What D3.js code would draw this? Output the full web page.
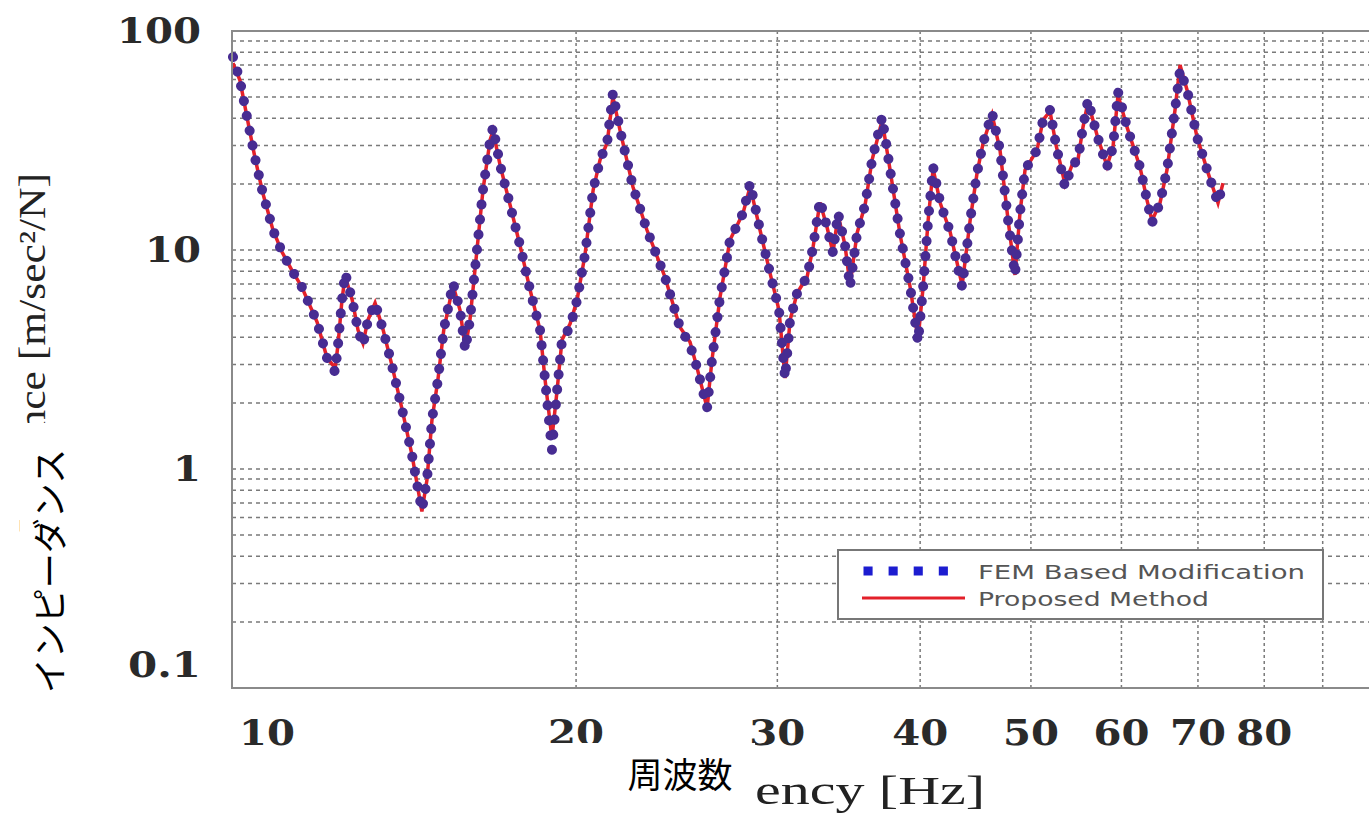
<!DOCTYPE html>
<html>
<head>
<meta charset="utf-8">
<script src="https://d3js.org/d3.v7.min.js"></script>
<style>
  body { margin: 0; background: #fff; }
  .tick-label { font-family: 'DejaVu Serif', serif; font-size: 35px; font-weight: bold; fill: #2a2a2a; }
  .axis-title { font-family: 'Liberation Serif', serif; font-size: 38px; fill: #222; }
  .legend-text { font-family: 'DejaVu Sans', sans-serif; font-size: 20px; fill: #555; }
  .jp { font-family: 'Noto Sans CJK JP', sans-serif; font-size: 35px; fill: #000; }
</style>
</head>
<body>
<div id="chart"></div>
<script>
// frequency [Hz]
var freq = [10.02, 10.16, 10.31, 10.47, 10.64, 10.86, 11.06, 11.28, 11.51, 11.87,
  12.11, 12.31, 12.38, 12.48, 12.56, 12.74, 12.89, 13.02, 13.15, 13.34,
  13.56, 13.80, 14.09, 14.37, 14.55, 14.66, 14.81, 14.96, 15.14, 15.32,
  15.61, 15.83, 16.00, 16.15, 16.38, 16.58, 16.82, 16.92, 17.16, 17.51,
  17.86, 18.23, 18.60, 18.79, 19.05, 19.25, 19.44, 19.76, 20.04, 20.36,
  20.70, 20.99, 21.29, 21.54, 21.85, 22.43, 23.07, 23.92, 24.65, 25.16,
  25.51, 26.04, 26.30, 26.73, 27.27, 28.00, 28.40, 28.97, 29.56, 30.10,
  30.47, 30.78, 31.22, 31.85, 32.24, 32.69, 33.16, 33.56, 33.90, 34.38,
  34.73, 35.23, 35.80, 36.31, 37.05, 37.65, 38.42, 39.20, 39.83, 40.24,
  40.65, 41.06, 41.65, 42.49, 43.53, 44.24, 44.86, 45.41, 46.24, 46.98,
  47.75, 48.42, 48.91, 49.41, 50.62, 51.23, 51.96, 52.59, 53.55, 54.31,
  54.97, 55.53, 56.09, 57.12, 58.28, 58.99, 59.59, 60.68, 62.29, 63.17,
  63.81, 64.85, 65.77, 66.84, 67.52, 68.48, 69.87, 71.44, 72.89, 73.62];

// FEM Based Modification
var femValues = [76.1, 59.7, 40.1, 26.6, 18.2, 12.34, 9.79, 8.10, 6.78, 4.69,
  3.21, 2.77, 3.68, 5.91, 7.85, 5.91, 4.31, 3.68, 4.79, 5.73,
  4.31, 2.98, 1.86, 1.16, 0.802, 0.650, 0.891, 1.67, 2.55, 4.31,
  7.07, 5.32, 3.49, 4.79, 10.0, 18.8, 31.8, 36.4, 24.4, 16.05,
  10.54, 6.57, 4.31, 2.55, 1.22, 2.29, 3.88, 4.45, 5.91, 9.49,
  18.8, 25.8, 30.8, 52.1, 35.3, 19.4, 12.34, 7.53, 4.45, 3.68,
  2.92, 1.90, 3.15, 6.10, 11.1, 14.76, 20.2, 12.34, 7.85, 5.32,
  2.60, 4.79, 6.36, 7.53, 10.32, 16.9, 12.7, 9.69, 14.76, 10.54,
  6.78, 11.96, 16.05, 25.8, 40.5, 23.2, 11.7, 6.78, 3.80, 6.78,
  13.7, 23.9, 16.4, 12.1, 6.78, 13.7, 22.5, 30.8, 42.2, 28.6,
  13.7, 7.69, 14.76, 23.2, 28.6, 39.2, 43.6, 30.2, 19.4, 24.4,
  25.8, 36.4, 48.4, 33.5, 23.9, 29.5, 52.7, 36.4, 23.9, 16.9,
  13.3, 16.4, 23.2, 43.6, 66.4, 53.8, 32.8, 22.5, 16.4, 20.2];

// Proposed Method
var proposedValues = [71.4, 59.7, 40.1, 26.6, 18.2, 12.34, 9.79, 8.10, 6.78, 4.69,
  3.21, 2.90, 3.68, 5.91, 7.60, 5.91, 4.31, 3.75, 4.79, 5.73,
  4.31, 2.98, 1.86, 1.16, 0.802, 0.640, 0.891, 1.67, 2.55, 4.31,
  6.90, 5.32, 3.55, 4.79, 10.0, 18.8, 31.8, 35.0, 24.4, 16.05,
  10.54, 6.57, 4.31, 2.55, 1.38, 2.29, 3.88, 4.60, 5.91, 9.49,
  18.8, 25.8, 30.8, 50.0, 35.3, 19.4, 12.34, 7.53, 4.45, 3.80,
  2.92, 1.90, 3.15, 6.10, 11.1, 14.76, 19.5, 12.34, 7.85, 5.32,
  2.60, 4.79, 6.36, 7.53, 10.32, 16.5, 12.7, 9.69, 14.5, 10.54,
  6.90, 11.96, 16.05, 25.8, 39.0, 23.2, 11.7, 6.78, 3.90, 6.78,
  13.7, 23.5, 16.4, 12.1, 6.90, 13.7, 22.5, 30.8, 41.5, 28.6,
  13.7, 7.69, 14.76, 23.2, 28.6, 39.2, 43.0, 30.2, 20.0, 24.4,
  25.8, 36.4, 47.5, 33.5, 24.2, 29.5, 51.0, 36.4, 23.9, 16.9,
  13.6, 16.4, 23.2, 43.6, 70.0, 53.8, 32.8, 22.5, 16.4, 20.2];

var xTicks = [10, 20, 30, 40, 50, 60, 70, 80];
var yTicks = [0.1, 1, 10, 100];
var seriesNames = ["FEM Based Modification", "Proposed Method"];

var width = 1369, height = 819;
var plotLeft = 232, plotRight = 1375, plotTop = 31, plotBottom = 688;

var svg = d3.select("#chart").append("svg")
  .attr("width", width)
  .attr("height", height);

svg.append("rect").attr("width", width).attr("height", height).attr("fill", "#fff");

var x = d3.scaleLog().domain([10, 100]).range([plotLeft, plotRight]);
var y = d3.scaleLog().domain([0.1, 100]).range([plotBottom, plotTop]);

// grid: every 1..9 step inside each decade
var hGrid = [];
[0.1, 1, 10].forEach(function (d) {
  for (var k = 1; k < 10; k++) hGrid.push(d * k);
});
hGrid = hGrid.filter(function (v) { return v > 0.1; });
var vGrid = [20, 30, 40, 50, 60, 70, 80, 90];

svg.append("g").selectAll("line").data(hGrid).enter().append("line")
  .attr("x1", plotLeft).attr("x2", plotRight)
  .attr("y1", function (d) { return y(d); })
  .attr("y2", function (d) { return y(d); })
  .attr("stroke", "#7a7a7a")
  .attr("stroke-width", 1.5)
  .attr("stroke-dasharray", "4,4");

svg.append("g").selectAll("line").data(vGrid).enter().append("line")
  .attr("y1", plotTop).attr("y2", plotBottom)
  .attr("x1", function (d) { return x(d); })
  .attr("x2", function (d) { return x(d); })
  .attr("stroke", "#7a7a7a")
  .attr("stroke-width", 1.5)
  .attr("stroke-dasharray", "3,3");

var line = d3.line()
  .x(function (d) { return x(d[0]); })
  .y(function (d) { return y(d[1]); });

// red solid line first, thick dotted FEM curve over it
svg.append("path")
  .datum(d3.zip(freq, proposedValues))
  .attr("d", line)
  .attr("fill", "none")
  .attr("stroke", "#e3202a")
  .attr("stroke-width", 3.5);

svg.append("path")
  .datum(d3.zip(freq, femValues))
  .attr("d", line)
  .attr("fill", "none")
  .attr("stroke", "#472c92")
  .attr("stroke-width", 10)
  .attr("stroke-linecap", "round")
  .attr("stroke-dasharray", "0.1,15");

// frame
svg.append("path")
  .attr("d", "M" + plotRight + "," + plotTop + "H" + plotLeft + "V" + plotBottom + "H" + plotRight)
  .attr("fill", "none")
  .attr("stroke", "#8a8a8a")
  .attr("stroke-width", 2);

function labelLength(s) {
  var n = 0;
  for (var i = 0; i < s.length; i++) n += s[i] === "." ? 17 : 28;
  return n;
}

// x tick labels (the first one sits a little right of the axis)
svg.append("g").selectAll("text").data(xTicks).enter().append("text")
  .attr("class", "tick-label")
  .attr("x", function (d) { return x(d) + (d === 10 ? 35 : 0); })
  .attr("y", 745)
  .attr("text-anchor", "middle")
  .attr("textLength", function (d) { return labelLength(String(d)); })
  .attr("lengthAdjust", "spacingAndGlyphs")
  .text(function (d) { return d; });

// y tick labels (the bottom one is pulled up)
svg.append("g").selectAll("text").data(yTicks).enter().append("text")
  .attr("class", "tick-label")
  .attr("x", 201)
  .attr("y", function (d) { return y(d) + 12 - (d === 0.1 ? 23 : 0); })
  .attr("text-anchor", "end")
  .attr("textLength", function (d) { return labelLength(String(d)); })
  .attr("lengthAdjust", "spacingAndGlyphs")
  .text(function (d) { return d; });

// what is left visible of the original english titles
svg.append("text")
  .attr("class", "axis-title")
  .attr("x", 755).attr("y", 804)
  .attr("textLength", 230)
  .attr("lengthAdjust", "spacingAndGlyphs")
  .style("font-size", "40px")
  .text("ency [Hz]");

svg.append("text")
  .attr("class", "axis-title")
  .attr("transform", "translate(45,353) rotate(-90)")
  .attr("text-anchor", "middle")
  .attr("textLength", 360)
  .attr("lengthAdjust", "spacingAndGlyphs")
  .text("Inertance [m/sec\u00b2/N]");

// legend
var lg = svg.append("g");
lg.append("rect")
  .attr("x", 838).attr("y", 550)
  .attr("width", 485).attr("height", 69)
  .attr("fill", "#fff")
  .attr("stroke", "#777")
  .attr("stroke-width", 2);
lg.append("line")
  .attr("x1", 868).attr("x2", 950).attr("y1", 571).attr("y2", 571)
  .attr("stroke", "#1c1cd0")
  .attr("stroke-width", 9)
  .attr("stroke-linecap", "square")
  .attr("stroke-dasharray", "0.1,25");
lg.append("line")
  .attr("x1", 862).attr("x2", 965).attr("y1", 598).attr("y2", 598)
  .attr("stroke", "#e3202a")
  .attr("stroke-width", 3);
lg.selectAll("text.legend-text").data(seriesNames).enter().append("text")
  .attr("class", "legend-text")
  .attr("x", 978)
  .attr("y", function (d, i) { return 579 + i * 27; })
  .attr("textLength", function (d, i) { return i === 0 ? 327 : 231; })
  .attr("lengthAdjust", "spacingAndGlyphs")
  .text(function (d) { return d; });

// Japanese labels pasted over the old titles
svg.append("rect").attr("x", 533).attr("y", 743).attr("width", 222).attr("height", 64).attr("fill", "#fff");
svg.append("text")
  .attr("class", "jp")
  .attr("x", 680).attr("y", 788)
  .attr("text-anchor", "middle")
  .text("周波数");

svg.append("rect").attr("x", 20).attr("y", 423).attr("width", 65).attr("height", 292).attr("fill", "#fff");
svg.append("text")
  .attr("class", "jp")
  .attr("transform", "translate(63,571) rotate(-90)")
  .attr("text-anchor", "middle")
  .text("インピーダンス");
</script>
</body>
</html>
